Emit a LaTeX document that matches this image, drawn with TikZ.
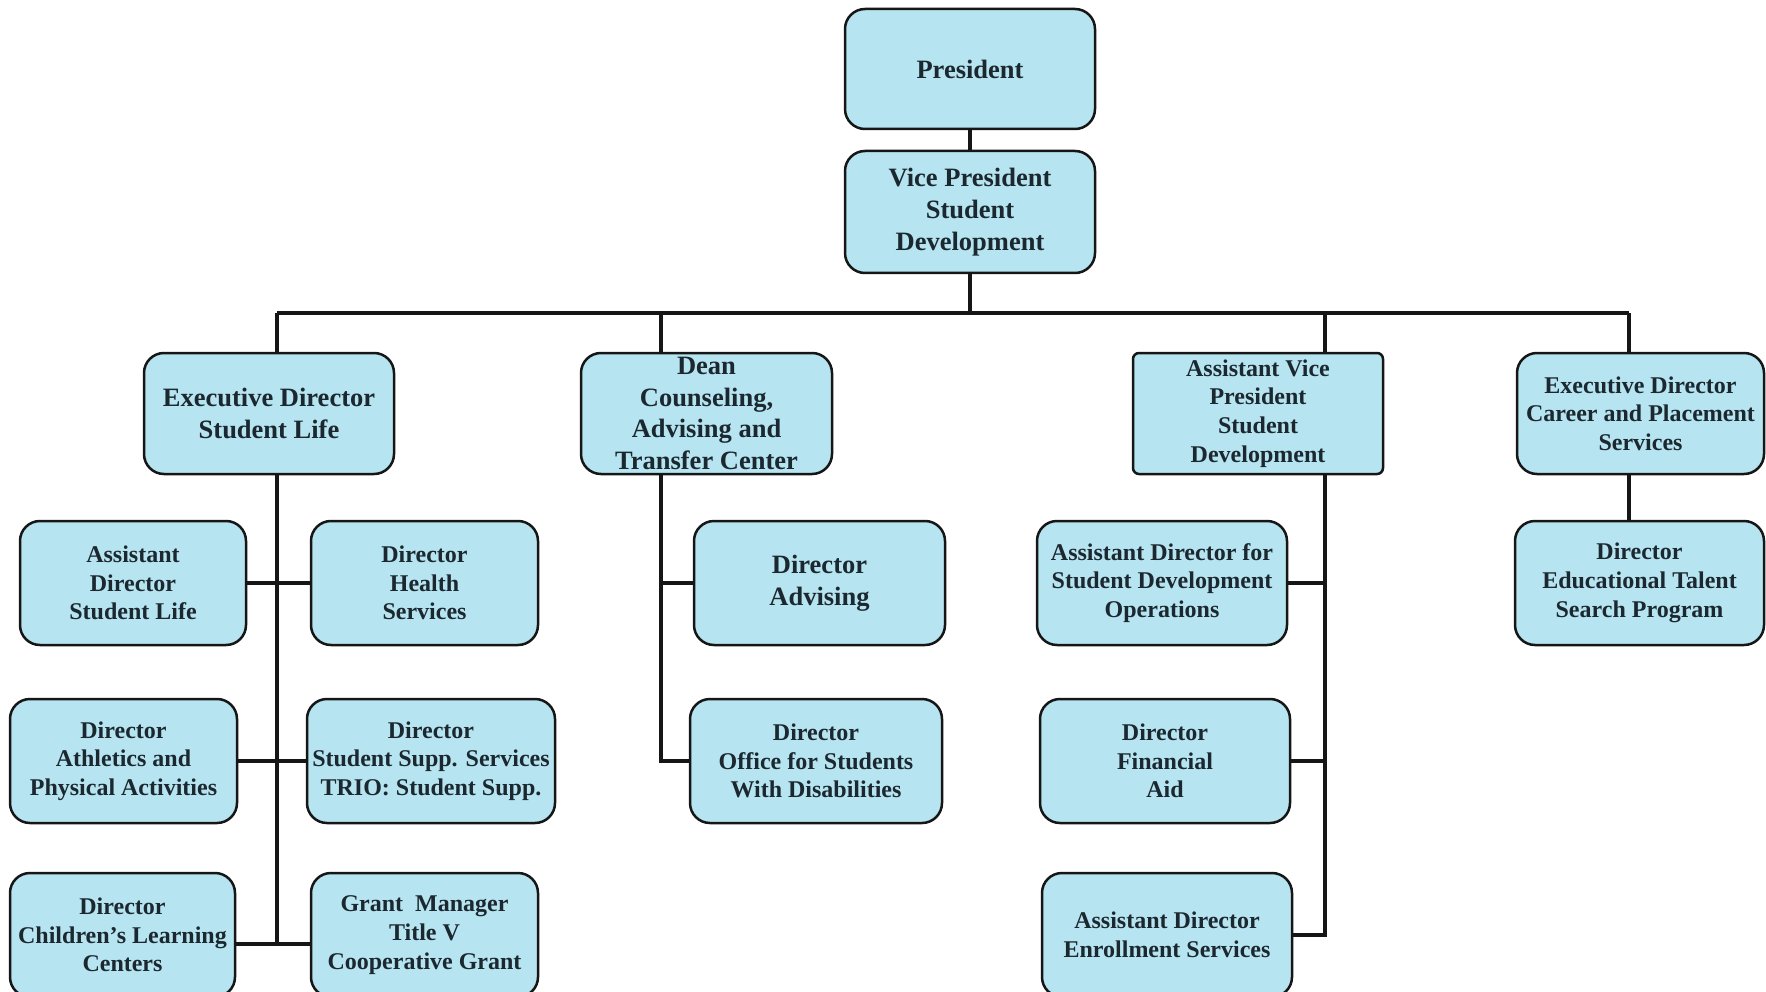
\documentclass[tikz,border=0pt]{standalone}
\usepackage{fontspec}
\setmainfont{Liberation Serif}
\definecolor{boxfill}{RGB}{182,228,240}
\definecolor{textc}{RGB}{28,40,48}
\definecolor{linec}{RGB}{22,22,22}
\tikzset{
  orgbox/.style={draw=linec, line width=2.5pt, fill=boxfill, rounded corners=20pt,
    align=center, inner sep=0pt, text=textc,
    font=\fontsize{24}{28.7}\selectfont\bfseries},
  bigtext/.style={font=\fontsize{26.5}{32}\selectfont\bfseries},
  conn/.style={draw=linec, line width=4pt},
}
\begin{document}
\begin{tikzpicture}[x=1pt,y=-1pt]
\path[use as bounding box, clip] (0,0) rectangle (1766,992);
\fill[white] (0,0) rectangle (1766,992);
% top
\node[orgbox,bigtext,minimum width=250,minimum height=120] (pres) at (970,69) {President};
\node[orgbox,bigtext,minimum width=250,minimum height=122] (vp) at (970,212) {Vice President\\Student\\Development};
% row 2
\node[orgbox,bigtext,minimum width=250,minimum height=121] (edsl) at (269,413.5) {Executive Director\\Student Life};
\node[orgbox,bigtext,minimum width=251,minimum height=121,font=\fontsize{26.5}{31.5}\selectfont\bfseries] (dean) at (706.5,413.5) {Dean\\Counseling,\\Advising and\\Transfer Center};
\node[orgbox,rounded corners=6pt,minimum width=250,minimum height=121] (avp) at (1258,413.5) {Assistant Vice\\President\\Student\\Development};
\node[orgbox,minimum width=247,minimum height=121] (edc) at (1640.5,413.5) {Executive Director\\Career and Placement\\Services};
% row 3
\node[orgbox,minimum width=226,minimum height=124] (asl) at (133,583) {Assistant\\Director\\Student Life};
\node[orgbox,minimum width=227,minimum height=124] (hs) at (424.5,583) {Director\\Health\\Services};
\node[orgbox,bigtext,minimum width=251,minimum height=124] (adv) at (819.5,583) {Director\\Advising};
\node[orgbox,minimum width=250,minimum height=124] (sdo) at (1162,583) {Assistant Director for\\Student Development\\Operations};
\node[orgbox,minimum width=249,minimum height=124] (ets) at (1639.5,583) {Director\\Educational Talent\\Search Program};
% row 4
\node[orgbox,minimum width=227,minimum height=124] (ath) at (123.5,761) {Director\\Athletics and\\Physical Activities};
\node[orgbox,minimum width=248,minimum height=124] (sss) at (431,761) {Director\\Student Supp. Services\\TRIO: Student Supp.};
\node[orgbox,minimum width=252,minimum height=124] (osd) at (816,761) {Director\\Office for Students\\With Disabilities};
\node[orgbox,minimum width=250,minimum height=124] (fa) at (1165,761) {Director\\Financial\\Aid};
% row 5
\node[orgbox,minimum width=225,minimum height=124] (clc) at (122.5,935) {Director\\Children’s Learning\\Centers};
\node[orgbox,minimum width=227,minimum height=124] (gm) at (424.5,935) {Grant~ Manager\\Title V\\Cooperative Grant};
\node[orgbox,minimum width=250,minimum height=124] (enr) at (1167,935) {Assistant Director\\Enrollment Services};
% coordinates
\coordinate (b1) at (277,313);
\coordinate (b2) at (661,313);
\coordinate (b3) at (1325,313);
\coordinate (b4) at (1629,313);
\coordinate (y5) at (0,944);
% connectors
\draw[conn] (pres) -- (vp);
\draw[conn] (vp.south) -- (vp.south |- b1);
\draw[conn] (b1) -- (b4);
\draw[conn] (b1) -- (b1 |- edsl.north);
\draw[conn] (b2) -- (b2 |- dean.north);
\draw[conn] (b3) -- (b3 |- avp.north);
\draw[conn] (b4) -- (b4 |- edc.north);
% student life
\draw[conn] (b1 |- edsl.south) -- (b1 |- y5);
\draw[conn] (asl.east) -- (hs.west);
\draw[conn] (ath.east) -- (sss.west);
\draw[conn] (clc.east |- y5) -- (gm.west |- y5);
% dean
\draw[conn] (b2 |- dean.south) |- (osd.west);
\draw[conn] (b2 |- adv.west) -- (adv.west);
% avp
\draw[conn] (b3 |- avp.south) |- (enr.east);
\draw[conn] (sdo.east) -- (b3 |- sdo.east);
\draw[conn] (fa.east) -- (b3 |- fa.east);
% career
\draw[conn] (b4 |- edc.south) -- (b4 |- ets.north);
\end{tikzpicture}
\end{document}
